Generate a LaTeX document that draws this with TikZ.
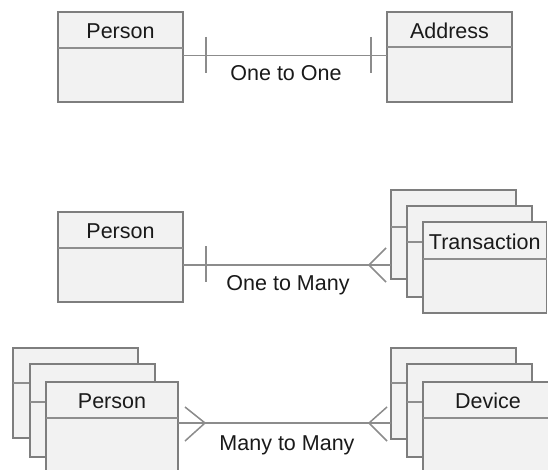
\documentclass[tikz,border=0pt]{standalone}
\usepackage{fontspec}
\setmainfont{Liberation Sans}
\usetikzlibrary{calc}
\definecolor{boxfill}{HTML}{F2F2F2}
\definecolor{boxline}{HTML}{7E7E7E}
\definecolor{divline}{HTML}{8E8E8E}
\definecolor{connline}{HTML}{8C8C8C}
\definecolor{txt}{HTML}{1A1A1A}
\tikzset{
  ent/.style={draw=boxline, fill=boxfill, line width=1.5pt, rectangle, inner sep=0pt, outer sep=0pt, anchor=north west},
  divider/.style={draw=divline, line width=2.4pt},
  lbl/.style={font=\fontsize{21.5}{24}\selectfont, text=txt, inner sep=0pt},
  conn/.style={draw=connline, line width=1.5pt},
}
\newcommand\entbox[7]{%
  \node[ent, minimum width=#4pt, minimum height=#5pt] (#1) at (#2,#3) {};
  \draw[divider] ([yshift=-#6pt]#1.north west) -- ([yshift=-#6pt]#1.north east);
  \node[lbl] (#1t) at ({#2+#4/2},{#3+#6/2+1}) {#7};
}
\begin{document}
\begin{tikzpicture}[x=1pt,y=-1pt]
\useasboundingbox[fill=white] (0,0) rectangle (548,470);
% Row 1: one to one
\entbox{pa}{58}{12}{125}{90}{36}{Person}
\entbox{ad}{387}{12}{125}{90}{35}{Address}
\coordinate (c1) at (0,55.5);
\draw[conn] (pa.east |- c1) -- (ad.west |- c1);
\coordinate (t1a) at (206,37); \coordinate (t1b) at (206,73);
\coordinate (t2a) at (371,37); \coordinate (t2b) at (371,73);
\draw[conn] (t1a) -- (t1b);
\draw[conn] (t2a) -- (t2b);
\node[lbl] (l1) at (286,73) {One to One};
% Row 2: one to many
\entbox{pb}{58}{212}{125}{90}{36}{Person}
\entbox{tr1}{391}{190}{125}{89}{37}{}
\entbox{tr2}{407}{206}{125}{91}{36}{}
\entbox{tr3}{423}{222}{123.5}{91}{37}{Transaction}
\coordinate (c2) at (0,265);
\draw[conn] (pb.east |- c2) -- (tr1.west |- c2);
\coordinate (t3a) at (206,246); \coordinate (t3b) at (206,282);
\draw[conn] (t3a) -- (t3b);
\coordinate (cf1) at (369,265);
\coordinate (cf1a) at (386,248); \coordinate (cf1b) at (386,282);
\draw[conn] (cf1a) -- (cf1) -- (cf1b);
\node[lbl] (l2) at (288,285) {One to Many};
% Row 3: many to many
\entbox{pc1}{13}{348}{125}{90}{35}{}
\entbox{pc2}{30}{364}{125}{93}{38}{}
\entbox{pc3}{46}{382}{132}{100}{36}{Person}
\entbox{dv1}{391}{348}{125}{91}{35}{}
\entbox{dv2}{407}{364}{125}{93}{38}{}
\entbox{dv3}{423}{382}{130}{100}{36}{Device}
\coordinate (c3) at (0,423);
\draw[conn] (pc3.east |- c3) -- (dv1.west |- c3);
\coordinate (cf2) at (205,423);
\coordinate (cf2a) at (185,407); \coordinate (cf2b) at (185,441);
\draw[conn] (cf2a) -- (cf2) -- (cf2b);
\coordinate (cf3) at (369,423);
\coordinate (cf3a) at (387,407); \coordinate (cf3b) at (387,441);
\draw[conn] (cf3a) -- (cf3) -- (cf3b);
\node[lbl] (l3) at (287,445) {Many to Many};
\end{tikzpicture}
\end{document}
